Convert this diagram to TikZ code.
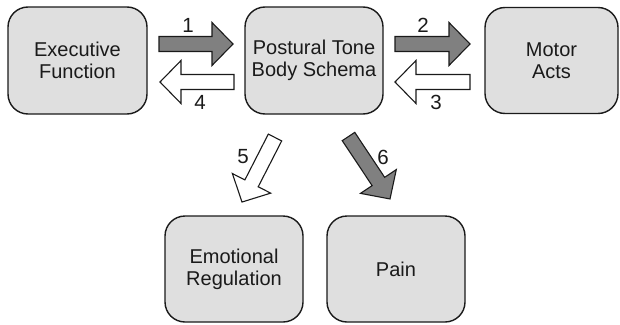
\documentclass[tikz,border=0pt]{standalone}
\usepackage{fontspec}
\setmainfont{Liberation Sans}
\definecolor{boxfill}{HTML}{DFDFDF}
\definecolor{arrfill}{HTML}{808080}
\definecolor{ink}{HTML}{1A1A1A}
\newcommand{\blockarr}[4]{%
  \draw[#1, shift={#2}, rotate=#3] (0,7.5) -- ({#4-21},7.5) -- ({#4-21},21.5) -- (#4,0)
    -- ({#4-21},-21.5) -- ({#4-21},-7.5) -- (0,-7.5) -- cycle;}
\tikzset{
  box/.style={draw=ink, line width=1.4pt, fill=boxfill, rounded corners=20pt,
    align=center, text=ink, font=\fontsize{20}{22}\selectfont, inner sep=0pt},
  darr/.style={draw=ink, line width=1.1pt, fill=arrfill, line join=miter},
  larr/.style={draw=ink, line width=1.1pt, fill=white, line join=miter},
  num/.style={text=ink, font=\fontsize{20.5}{22}\selectfont, inner sep=0pt}
}
\begin{document}
\begin{tikzpicture}[x=1pt,y=-1pt]
\useasboundingbox (0,0) rectangle (620,324);
\node[box, minimum width=139pt, minimum height=107pt] (ef) at (77.5,60.5) {Executive\\Function};
\node[box, minimum width=138pt, minimum height=107pt] (pt) at (314,60.5) {Postural Tone\\Body Schema};
\node[box, minimum width=133pt, minimum height=106pt] (ma) at (551.5,60.5) {Motor\\Acts};
\node[box, minimum width=138pt, minimum height=106pt] (er) at (234,269) {Emotional\\Regulation};
\node[box, minimum width=138pt, minimum height=106pt] (pain) at (396,269) {Pain};
\blockarr{darr}{(159,44)}{0}{74}
\blockarr{larr}{(234,82)}{180}{74}
\blockarr{darr}{(395,44)}{0}{75}
\blockarr{larr}{(470,82)}{180}{75}
\blockarr{larr}{(275,137.5)}{-117.1}{72.5}
\blockarr{darr}{(348.5,136.5)}{-56.4}{75}
\node[num] (l1) at (188,25) {1};
\node[num] (l4) at (200,102) {4};
\node[num] (l2) at (423,25) {2};
\node[num] (l3) at (436,102) {3};
\node[num] (l5) at (243,157) {5};
\node[num] (l6) at (383,157) {6};
\end{tikzpicture}
\end{document}
